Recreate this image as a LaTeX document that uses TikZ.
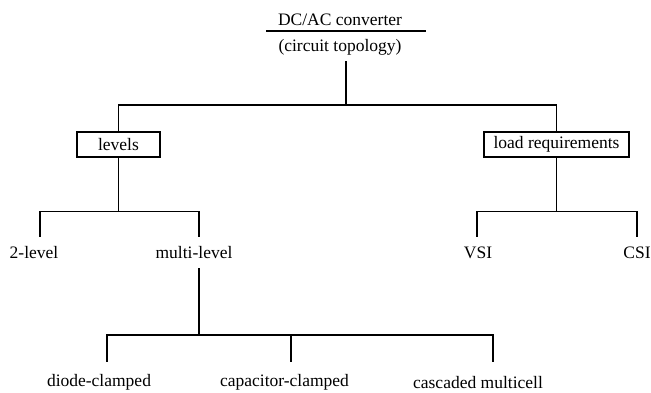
\documentclass[tikz,border=0pt]{standalone}
\usepackage{fontspec}
\setmainfont{Liberation Serif}
\usepackage{tikz}

\begin{document}
\begin{tikzpicture}[x=1pt,y=-1pt,line width=1.1pt,
  font=\fontsize{17.5}{20}\selectfont,
  caja/.style={draw, minimum width=83pt, minimum height=25pt, inner sep=0pt},
  hoja/.style={inner sep=0pt}]
\useasboundingbox (0,0) rectangle (651,392);

% titulo
\node[hoja] (conv) at (340,20) {DC/AC converter};
\node[hoja] (topo) at (340,47) {(circuit topology)};
\coordinate (raya1) at (266,31);
\coordinate (raya2) at (426,31);
\coordinate (t0) at (346,61);

% cajas
\node[caja] (levels) at (118.5,144.5) {levels};
\node[caja, minimum width=145pt] (load) at (556.5,144.5) {load requirements};

% hojas
\node[hoja] (dos) at (34,253) {2-level};
\node[hoja] (multi) at (194,253) {multi-level};
\node[hoja] (vsi) at (478,253) {VSI};
\node[hoja] (csi) at (637,253) {CSI};
\node[hoja] (diodo) at (99,382) {diode-clamped};
\node[hoja] (capa) at (284.5,382) {capacitor-clamped};
\node[hoja] (casc) at (478,383) {cascaded multicell};

% puntas de las bajadas
\coordinate (l1) at (40,237);
\coordinate (l2) at (199,237);
\coordinate (v1) at (477,237);
\coordinate (v2) at (637,237);
\coordinate (m0) at (199,268);
\coordinate (d1) at (107,362);
\coordinate (d2) at (291,362);
\coordinate (d3) at (493,362);

\draw (raya1) -- (raya2);
\draw (t0) -- ++(0,44) -| (levels.north);
\draw (t0) -- ++(0,44) -| (load.north);
\draw (levels.south) -- ++(0,54) -| (l1);
\draw (levels.south) -- ++(0,54) -| (l2);
\draw (load.south) -- ++(0,54) -| (v1);
\draw (load.south) -- ++(0,54) -| (v2);
\draw (m0) -- ++(0,67) -| (d1);
\draw (m0) -- ++(0,67) -| (d2);
\draw (m0) -- ++(0,67) -| (d3);
\end{tikzpicture}
\end{document}
